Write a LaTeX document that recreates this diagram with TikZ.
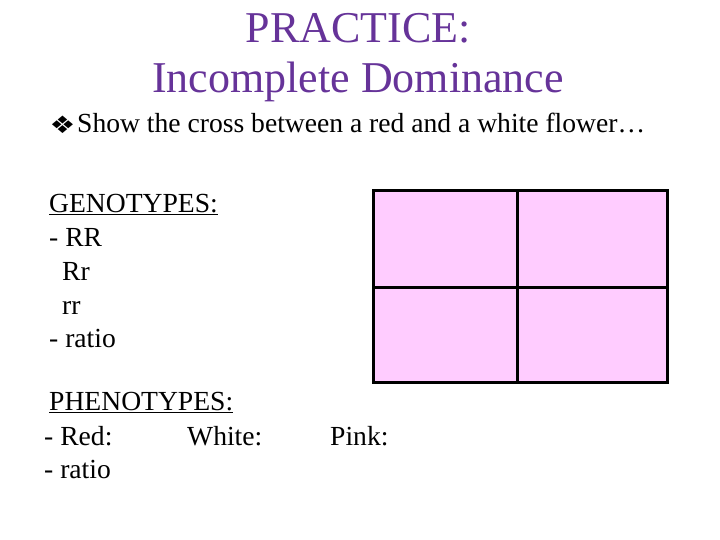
\documentclass[tikz,border=0pt]{standalone}
\usepackage{fontspec}
\setmainfont{Liberation Serif}
\newfontfamily\symfont{DejaVu Sans}
\definecolor{titlepurple}{RGB}{102,51,153}
\definecolor{punnettpink}{RGB}{255,204,255}
\begin{document}
\begin{tikzpicture}[x=1pt,y=-1pt,
  titletext/.style={font=\fontsize{44}{48}\selectfont, text=titlepurple, inner sep=0pt, anchor=base},
  bodytext/.style={font=\fontsize{27.6}{32}\selectfont, inner sep=0pt, anchor=base west},
  ulinestyle/.style={line width=1.6pt},
  cellbox/.style={draw=black, line width=3pt, fill=punnettpink}]
\useasboundingbox (0,0) rectangle (720,540);
% title
\node[titletext] (t1) at (358,43) {PRACTICE:};
\node[titletext] (t2) at (358,93) {Incomplete Dominance};
% bullet line
\node[inner sep=0pt, font=\symfont\fontsize{24}{28}\selectfont, xscale=1.2, anchor=center] (bul) at (62.5,124.5) {❖};
\node[bodytext] (show) at (77,133) {Show the cross between a red and a white flower…};
% genotypes
\node[bodytext] (geno) at (49,212) {GENOTYPES:};
\draw[ulinestyle] ([yshift=-2.5pt]geno.base west) -- ([yshift=-2.5pt]geno.base east);
\node[bodytext] (g1) at (49,247) {- RR};
\node[bodytext] (g2) at (62,280) {Rr};
\node[bodytext] (g3) at (62,314) {rr};
\node[bodytext] (g4) at (49,347) {- ratio};
% phenotypes
\node[bodytext] (pheno) at (49,410) {PHENOTYPES:};
\draw[ulinestyle] ([yshift=-2.5pt]pheno.base west) -- ([yshift=-2.5pt]pheno.base east);
\node[bodytext] (p1) at (44,445) {- Red:};
\node[bodytext] (p2) at (187,445) {White:};
\node[bodytext] (p3) at (330,445) {Pink:};
\node[bodytext] (p4) at (44,478) {- ratio};
% punnett square
\draw[cellbox] (373,191) rectangle (667,382);
\draw[line width=3pt] (517,191) -- (517,382);
\draw[line width=3pt] (373,287) -- (667,287);
\end{tikzpicture}
\end{document}
